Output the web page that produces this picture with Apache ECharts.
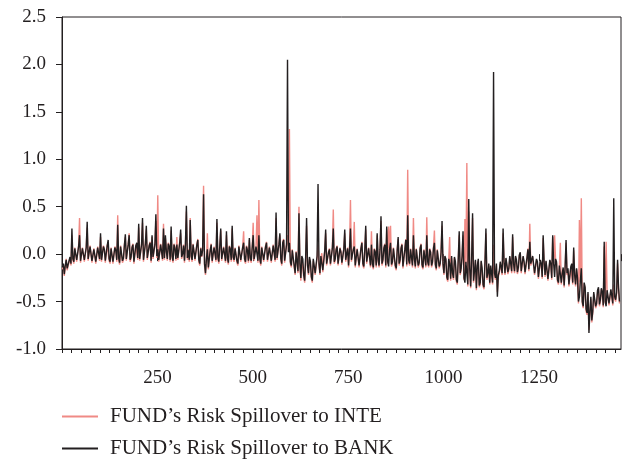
<!DOCTYPE html>
<html><head><meta charset="utf-8">
<script src="https://cdn.jsdelivr.net/npm/echarts@6/dist/echarts.min.js"></script>
<style>html,body{margin:0;padding:0;background:#fff}#c{width:626px;height:460px}</style>
</head><body><div id="c"></div>
<script>
// sampled observation indices: main samples at 1+5k, in-between samples at 3.5+5k
const startIndex = 1;
const stepSize = 5;
const midOffset = 2.5;
const seriesNames = ["FUND\u2019s Risk Spillover to INTE", "FUND\u2019s Risk Spillover to BANK"];
const yTicks = [-1.0, -0.5, 0.0, 0.5, 1.0, 1.5, 2.0, 2.5];
const xTickLabels = [250, 500, 750, 1000, 1250];

const bankValues = [
-0.14,-0.21,-0.06,-0.17,-0.03,0.27,-0.08,0.05,-0.06,0.2,
-0.05,0.08,-0.07,0.34,-0.04,0.06,-0.09,0.03,-0.06,0.09,
0.22,-0.07,0.05,-0.05,0.15,-0.08,0.07,-0.1,0.04,0.31,
-0.09,0.06,-0.04,0.21,-0.06,0.2,-0.03,0.1,-0.07,0.12,
0.32,-0.04,0.38,0.02,0.3,-0.06,0.12,0.2,-0.05,0.42,
0.05,-0.08,0.1,0.27,0.2,-0.05,0.08,0.29,-0.07,0.06,
0.1,-0.06,0.26,0.0,-0.07,0.51,0.04,0.36,-0.06,0.08,
-0.05,0.15,-0.1,-0.02,0.63,-0.2,0.05,-0.12,0.1,-0.05,
0.08,0.37,-0.08,0.27,-0.04,0.06,0.24,-0.09,0.05,0.3,
-0.06,0.07,-0.1,0.1,-0.04,0.12,-0.08,0.04,0.17,-0.07,
0.2,-0.06,0.1,0.2,-0.1,0.05,-0.07,0.12,-0.05,0.08,
-0.08,0.1,0.44,-0.02,0.22,-0.1,0.15,-0.05,2.05,0.12,
-0.12,0.05,-0.2,0.0,0.43,-0.25,-0.05,-0.28,0.38,-0.2,
-0.08,-0.28,-0.06,-0.18,0.74,-0.2,0.0,-0.15,0.26,-0.12,
0.05,-0.1,0.27,-0.05,0.08,-0.12,0.02,-0.08,0.26,-0.04,
-0.12,0.27,-0.05,0.08,-0.14,0.04,-0.1,0.12,-0.13,0.3,
-0.08,0.05,0.1,-0.14,0.02,0.22,-0.12,0.4,-0.06,0.1,
0.29,-0.13,0.12,-0.08,0.06,-0.15,0.18,-0.06,0.1,-0.12,
0.15,0.41,-0.1,0.05,0.2,-0.13,0.03,-0.09,0.1,-0.14,
0.05,0.2,-0.12,0.02,-0.08,0.12,-0.15,0.06,-0.1,0.35,
-0.2,-0.05,-0.27,-0.1,-0.02,-0.25,-0.08,-0.3,0.24,-0.15,
0.24,-0.3,-0.1,0.58,-0.34,0.43,-0.18,-0.36,-0.05,-0.3,
-0.15,-0.35,0.27,-0.2,-0.3,-0.12,1.92,-0.25,-0.45,-0.18,
-0.1,0.27,-0.2,-0.05,-0.15,0.0,0.21,-0.18,-0.06,-0.14,
0.02,-0.17,-0.08,-0.2,0.05,0.13,-0.12,-0.03,-0.18,-0.08,
-0.25,-0.1,0.2,-0.22,-0.06,-0.27,-0.1,0.2,-0.24,-0.08,
-0.3,-0.12,-0.2,-0.33,0.15,-0.15,-0.3,-0.1,0.07,-0.32,
-0.25,-0.45,-0.15,-0.55,-0.35,-0.62,-0.83,-0.45,-0.6,-0.38,
-0.52,-0.35,-0.48,-0.4,0.13,-0.55,-0.38,-0.5,-0.36,0.59,
-0.48,-0.06,-0.5
];
const bankMidValues = [
-0.1,-0.12,-0.15,-0.07,-0.1,-0.05,0.06,-0.06,0.08,-0.07,
0.06,-0.06,0.07,-0.05,0.08,-0.07,0.05,-0.08,0.07,-0.05,
-0.06,0.08,-0.07,0.09,-0.05,0.06,-0.08,0.07,-0.06,-0.04,
0.08,-0.07,0.09,-0.05,0.1,-0.06,0.07,-0.08,0.09,-0.04,
-0.05,0.1,-0.06,0.11,-0.04,0.09,-0.07,-0.03,0.1,-0.02,
-0.06,0.1,-0.05,-0.04,0.03,0.11,-0.06,-0.02,0.1,-0.05,
-0.04,0.12,-0.03,0.09,0.1,-0.04,-0.06,-0.02,0.1,-0.05,
0.1,-0.06,0.06,0.04,-0.1,-0.05,-0.14,0.04,-0.07,0.07,
-0.06,-0.03,0.08,-0.05,0.07,-0.07,-0.04,0.08,-0.06,-0.03,
0.06,-0.07,0.08,-0.06,0.07,-0.05,0.08,-0.07,-0.04,0.07,
-0.05,0.08,-0.07,-0.05,0.07,-0.06,0.08,-0.06,0.07,-0.07,
0.09,-0.06,-0.04,0.1,-0.05,0.12,-0.07,0.1,0.02,-0.08,
0.04,-0.12,0.02,-0.18,-0.1,-0.02,-0.22,-0.04,-0.12,-0.03,
-0.24,-0.05,-0.2,-0.02,-0.1,-0.02,-0.17,0.03,-0.1,0.02,
-0.1,0.06,-0.08,0.05,-0.1,0.06,-0.09,0.05,-0.06,0.06,
0.05,-0.06,0.05,-0.12,0.05,-0.12,0.06,-0.1,0.04,-0.08,
0.06,-0.12,-0.1,0.05,-0.12,-0.06,0.05,-0.1,0.06,-0.12,
-0.08,0.05,-0.11,0.06,-0.12,0.04,-0.1,0.06,-0.13,0.05,
-0.11,-0.06,0.05,-0.12,-0.05,0.05,-0.12,0.06,-0.11,0.04,
-0.12,-0.08,0.05,-0.12,0.06,-0.11,0.04,-0.13,0.02,-0.1,
-0.02,-0.24,-0.05,-0.26,-0.2,-0.03,-0.27,-0.05,-0.2,-0.02,
-0.25,-0.08,-0.32,-0.15,-0.06,-0.28,-0.06,-0.12,-0.33,-0.07,
-0.32,-0.08,-0.25,-0.1,-0.12,-0.3,-0.2,-0.1,-0.22,-0.08,
-0.2,-0.08,-0.04,-0.19,-0.02,-0.18,-0.1,-0.02,-0.19,-0.01,
-0.18,-0.02,-0.19,-0.04,-0.16,-0.1,-0.02,-0.2,-0.05,-0.24,
-0.06,-0.24,-0.08,-0.07,-0.26,-0.06,-0.25,-0.1,-0.05,-0.27,
-0.12,-0.3,-0.14,-0.14,-0.2,-0.32,-0.13,-0.3,-0.22,-0.15,
-0.5,-0.28,-0.5,-0.3,-0.58,-0.4,-0.6,-0.7,-0.4,-0.55,
-0.38,-0.53,-0.36,-0.54,-0.5,-0.38,-0.52,-0.37,-0.52,-0.45,
-0.4,-0.35
];

const inteValues = [
-0.16,-0.23,-0.05,-0.19,-0.04,0.2,-0.1,0.06,-0.08,0.38,
-0.07,0.09,-0.09,0.28,-0.06,0.07,-0.11,0.04,-0.08,0.1,
0.18,-0.09,0.06,-0.07,0.12,-0.1,0.08,-0.12,0.05,0.41,
-0.11,0.07,-0.06,0.18,-0.08,0.22,-0.05,0.11,-0.09,0.1,
0.28,-0.06,0.33,0.03,0.26,-0.08,0.13,0.18,-0.07,0.35,
0.62,-0.1,0.11,0.32,0.17,-0.07,0.09,0.25,-0.09,0.07,
0.18,-0.08,0.22,0.01,-0.09,0.45,0.05,0.38,-0.08,0.09,
-0.07,0.16,-0.12,-0.03,0.72,-0.22,0.22,-0.14,0.11,-0.07,
0.09,0.33,-0.1,0.25,-0.06,0.07,0.2,-0.11,0.06,0.27,
-0.08,0.08,-0.12,0.11,-0.06,0.24,-0.1,0.05,0.15,-0.09,
0.33,-0.08,0.41,0.57,-0.12,0.06,-0.09,0.13,-0.07,0.09,
-0.1,0.11,0.38,-0.04,0.2,-0.12,0.16,-0.07,0.2,1.32,
-0.14,0.06,-0.22,0.01,0.5,-0.28,-0.06,-0.3,0.3,-0.22,
-0.1,-0.3,-0.08,-0.2,0.1,-0.22,0.01,-0.17,0.22,-0.14,
0.06,-0.12,0.47,-0.07,0.09,-0.14,0.03,-0.1,0.22,-0.06,
-0.14,0.57,-0.07,0.34,-0.16,0.05,-0.12,0.13,-0.15,0.26,
-0.1,0.06,0.24,-0.16,0.03,0.2,-0.14,0.35,-0.08,0.11,
0.26,0.29,0.3,-0.1,0.07,-0.17,0.16,-0.08,0.11,-0.14,
0.16,0.89,-0.12,0.06,0.38,-0.15,0.04,-0.11,0.11,-0.16,
0.06,0.39,-0.14,0.03,-0.1,0.25,-0.17,0.07,-0.12,0.3,
-0.22,-0.06,-0.29,0.18,-0.04,-0.27,-0.1,-0.32,0.2,-0.17,
0.2,0.37,0.96,0.45,-0.36,0.38,-0.2,-0.38,-0.07,-0.32,
-0.17,-0.37,0.22,-0.22,-0.32,-0.14,0.1,-0.27,-0.4,-0.2,
-0.12,0.22,-0.22,-0.07,-0.17,-0.01,0.18,-0.2,-0.08,-0.16,
0.01,-0.19,-0.1,-0.22,0.06,0.32,-0.14,-0.05,-0.2,-0.1,
-0.27,-0.12,0.17,-0.24,-0.08,-0.29,-0.12,0.18,0.2,-0.1,
-0.32,0.12,-0.22,-0.35,0.12,-0.17,-0.32,-0.12,0.04,-0.34,
-0.27,0.36,0.59,-0.57,-0.37,-0.64,-0.8,-0.47,-0.62,-0.4,
-0.54,-0.37,-0.5,-0.42,0.08,0.13,-0.4,-0.52,-0.38,-0.32,
-0.5,-0.1,-0.52
];
const inteMidValues = [
-0.12,-0.14,-0.17,-0.08,-0.12,-0.06,0.07,-0.08,0.09,-0.09,
0.07,-0.08,0.08,-0.07,0.09,-0.09,0.06,-0.1,0.08,-0.07,
-0.08,0.09,-0.09,0.1,-0.07,0.07,-0.1,0.08,-0.08,-0.06,
0.09,-0.09,0.1,-0.07,0.11,-0.08,0.08,-0.1,0.1,-0.06,
-0.07,0.11,-0.08,0.12,-0.06,0.1,-0.09,-0.05,0.11,-0.04,
-0.08,0.11,-0.07,-0.06,0.04,0.12,-0.08,-0.04,0.11,-0.07,
-0.06,0.13,-0.05,0.1,0.11,-0.06,-0.08,-0.04,0.11,-0.07,
0.11,-0.08,0.07,0.05,-0.12,-0.07,-0.16,0.05,-0.09,0.08,
-0.08,-0.05,0.09,-0.07,0.08,-0.09,-0.06,0.09,-0.08,-0.05,
0.07,-0.09,0.09,-0.08,0.08,-0.07,0.09,-0.09,-0.06,0.08,
-0.07,0.09,-0.09,-0.07,0.08,-0.08,0.09,-0.08,0.08,-0.09,
0.1,-0.08,-0.06,0.11,-0.07,0.13,-0.09,0.11,0.03,-0.1,
0.05,-0.14,0.03,-0.2,-0.12,-0.04,-0.24,-0.06,-0.14,-0.05,
-0.26,-0.07,-0.22,-0.04,-0.12,-0.04,-0.19,0.04,-0.12,0.03,
-0.12,0.07,-0.1,0.06,-0.12,0.07,-0.11,0.06,-0.08,0.07,
0.06,-0.08,0.06,-0.14,0.06,-0.14,0.07,-0.12,0.05,-0.1,
0.07,-0.14,-0.12,0.06,-0.14,-0.08,0.06,-0.12,0.07,-0.14,
-0.1,0.06,-0.13,0.07,-0.14,0.05,-0.12,0.07,-0.15,0.06,
-0.13,-0.08,0.06,-0.14,-0.07,0.06,-0.14,0.07,-0.13,0.05,
-0.14,-0.1,0.06,-0.14,0.07,-0.13,0.05,-0.15,0.03,-0.12,
-0.03,-0.26,-0.06,-0.28,-0.22,-0.04,-0.29,-0.06,-0.22,-0.03,
-0.27,-0.1,-0.34,-0.17,-0.07,-0.3,-0.07,-0.14,-0.35,-0.08,
-0.34,-0.1,-0.27,-0.12,-0.14,-0.32,-0.22,-0.12,-0.24,-0.1,
-0.22,-0.1,-0.05,-0.21,-0.03,-0.2,-0.12,-0.03,-0.21,-0.02,
-0.2,-0.03,-0.21,-0.05,-0.18,-0.12,-0.03,-0.22,-0.06,-0.26,
-0.07,-0.26,-0.1,-0.08,-0.28,-0.07,-0.27,-0.12,-0.06,-0.29,
-0.13,-0.32,-0.16,-0.15,-0.22,-0.34,-0.14,-0.32,-0.24,-0.16,
-0.52,-0.29,-0.52,-0.31,-0.6,-0.42,-0.62,-0.72,-0.42,-0.57,
-0.4,-0.55,-0.37,-0.56,-0.52,-0.39,-0.54,-0.38,-0.54,-0.47,
-0.42,-0.36
];

function pairs(main, mid){
  const out = [];
  main.forEach((v,k)=>{
    out.push([startIndex + k*stepSize, v]);
    if (k < mid.length) out.push([startIndex + k*stepSize + midOffset, mid[k]]);
  });
  return out;
}

const FONT = '"Liberation Serif","DejaVu Serif",serif';
const INK = '#231F20';
const PINK = '#F08A85';
const chart = echarts.init(document.getElementById('c'), null, {renderer:'canvas'});
function legendFor(name, top){
  return {
    orient:'horizontal', left:62, top:top, padding:0, itemWidth:36, itemHeight:2, icon:'rect',
    textStyle:{fontFamily:FONT, fontSize:21, color:INK, padding:[0,0,0,7]},
    data:[name], selectedMode:false
  };
}
chart.setOption({
  animation:false,
  backgroundColor:'#fff',
  grid:{left:62, right:5, top:17, bottom:111, show:true, borderColor:INK, borderWidth:1, backgroundColor:'transparent'},
  legend:[legendFor(seriesNames[0], 406), legendFor(seriesNames[1], 438)],
  xAxis:[{
    type:'value', min:0, max:1465, interval:25,
    axisLine:{show:true, onZero:false, lineStyle:{color:INK, width:1}},
    axisTick:{show:true, inside:false, length:4, lineStyle:{color:INK}},
    splitLine:{show:false},
    axisLabel:{fontFamily:FONT, fontSize:19, color:INK, margin:20, showMaxLabel:false,
      formatter:v=> xTickLabels.indexOf(v)>=0 ? String(v) : ''}
  },{
    type:'value', min:0, max:1465, interval:250, position:'bottom',
    axisLine:{show:false}, splitLine:{show:false},
    axisTick:{show:true, inside:false, length:7, lineStyle:{color:INK}},
    axisLabel:{show:false}
  }],
  yAxis:{
    type:'value', min:yTicks[0], max:yTicks[yTicks.length-1], interval:0.5,
    axisLine:{show:true, onZero:false, lineStyle:{color:INK, width:1}},
    axisTick:{show:true, inside:false, length:6, lineStyle:{color:INK}},
    splitLine:{show:false},
    axisLabel:{fontFamily:FONT, fontSize:19, color:INK, margin:16, formatter:v=>v.toFixed(1)}
  },
  series:[
    {name:seriesNames[0], type:'line', data:pairs(inteValues, inteMidValues), symbol:'none', showSymbol:false,
     lineStyle:{color:PINK, width:1.4}, itemStyle:{color:PINK}, z:2},
    {name:seriesNames[1], type:'line', data:pairs(bankValues, bankMidValues), symbol:'none', showSymbol:false,
     lineStyle:{color:INK, width:1.4}, itemStyle:{color:INK}, z:3}
  ]
});
</script></body></html>
